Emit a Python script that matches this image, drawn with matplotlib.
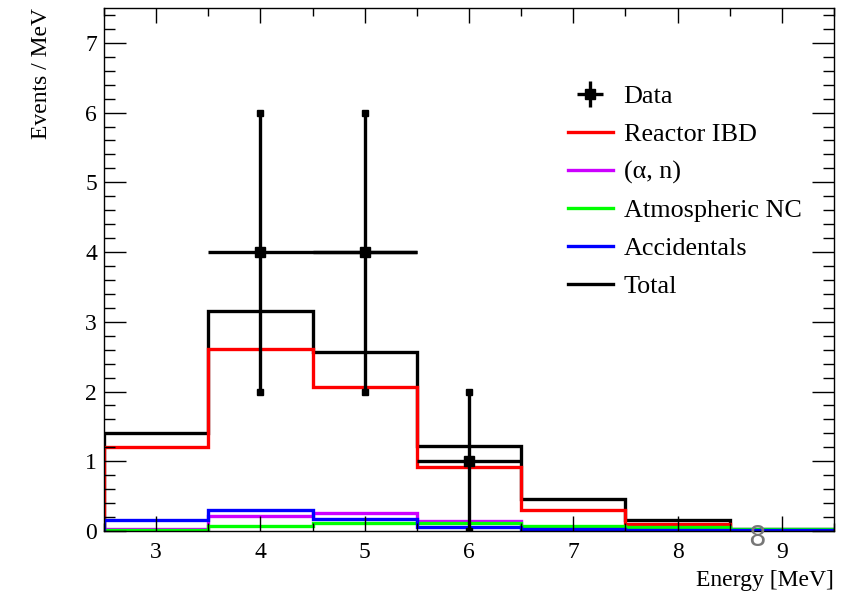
import numpy as np
import matplotlib
matplotlib.use("Agg")
import matplotlib.pyplot as plt
from matplotlib.ticker import MultipleLocator
from matplotlib.lines import Line2D

plt.rcParams["font.family"] = ["Liberation Serif", "DejaVu Serif"]

# bin edges in MeV
edges = [2.5, 3.5, 4.5, 5.5, 6.5, 7.5, 8.5, 9.5]

# predicted spectra (events / MeV) per bin
total = [1.41, 3.15, 2.57, 1.22, 0.46, 0.16, 0.03]
reactor = [1.20, 2.61, 2.07, 0.92, 0.30, 0.10, 0.01]
alpha_n = [0.03, 0.22, 0.26, 0.14, 0.05, 0.01, 0.005]
atm_nc = [0.02, 0.07, 0.115, 0.11, 0.075, 0.05, 0.03]
accidentals = [0.16, 0.30, 0.17, 0.06, 0.03, 0.01, 0.01]

# observed data (non-empty bins only)
data_x = [4.0, 5.0, 6.0]
data_y = [4.0, 4.0, 1.0]
data_xerr = [[0.5, 0.5, 0.5], [1.5, 0.5, 0.5]]
data_yerr = [2.0, 2.0, 1.0]

labels = ["Data", "Reactor IBD", "(α, n)", "Atmospheric NC", "Accidentals", "Total"]
colors = ["#ff0000", "#cc00ff", "#00ff00", "#0000ff", "black"]

fig = plt.figure(figsize=(8.51, 5.93), dpi=100)
ax = fig.add_axes([0.1222, 0.1046, 0.8578, 0.8819])

lw = 2.4
ax.stairs(total, edges, color="black", lw=lw, baseline=0)
ax.stairs(reactor, edges, color=colors[0], lw=lw, baseline=0)
ax.stairs(alpha_n, edges, color=colors[1], lw=lw, baseline=0)
ax.stairs(atm_nc, edges, color=colors[2], lw=lw, baseline=0)
ax.stairs(accidentals, edges, color=colors[3], lw=lw, baseline=0)

eb = ax.errorbar(data_x, data_y, xerr=data_xerr, yerr=data_yerr, fmt="s",
                 color="black", ms=6.5, lw=2.4, capsize=0, zorder=5)
ax.plot(data_x, np.array(data_y) + np.array(data_yerr), "s", color="black", ms=4, zorder=5)
ax.plot(data_x, np.array(data_y) - np.array(data_yerr), "s", color="black", ms=4, zorder=5)

ax.set_xlim(2.5, 9.5)
ax.set_ylim(0, 7.5)
ax.xaxis.set_major_locator(MultipleLocator(1))
ax.xaxis.set_minor_locator(MultipleLocator(0.5))
ax.yaxis.set_major_locator(MultipleLocator(1))
ax.yaxis.set_minor_locator(MultipleLocator(0.2))
ax.tick_params(which="both", direction="in", top=True, right=True, labelsize=17, width=1)
ax.tick_params(axis="y", which="major", length=16, pad=5)
ax.tick_params(axis="y", which="minor", length=8)
ax.tick_params(axis="x", which="major", length=11, pad=8)
ax.tick_params(axis="x", which="minor", length=5.5)
for s in ax.spines.values():
    s.set_linewidth(1)

ax.set_xlabel("Energy [MeV]", fontsize=17, loc="right", labelpad=5)
ax.set_ylabel("Events / MeV", fontsize=17, loc="top", labelpad=24)

leg_h = [eb] + [Line2D([], [], color=c, lw=lw) for c in colors]
ax.legend(leg_h, labels, loc="upper left", bbox_to_anchor=(0.635, 0.853), frameon=False,
          fontsize=18.8, handlelength=1.75, labelspacing=0.56, handletextpad=0.4,
          borderaxespad=0, borderpad=0)

fig.text(757 / 851, 1 - 538 / 593, "8", color="#777777", fontsize=20,
         family="DejaVu Sans", ha="center", va="center")

fig.savefig("out.png", dpi=100)
